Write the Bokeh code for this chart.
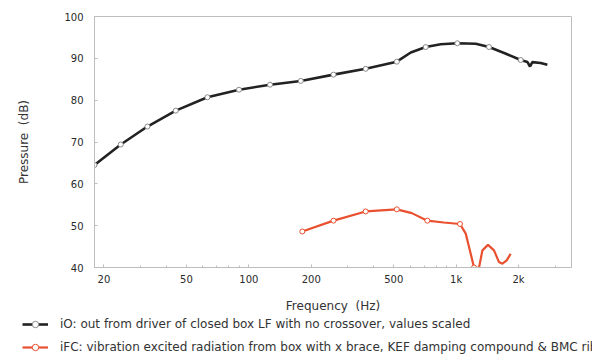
from bokeh.plotting import figure
from bokeh.layouts import column
from bokeh.models import FixedTicker, Legend, LegendItem, Range1d
from bokeh.embed import file_html
from bokeh.resources import INLINE

# ---- data ----
io_freq = [18.0, 24.1, 32.4, 44.4, 63.1, 89.6, 126.5, 178, 256, 366, 517, 604, 713, 842,
           1013, 1243, 1440, 1715, 2048, 2207, 2271, 2332, 2557, 2754]
io_db = [64.5, 69.4, 73.7, 77.5, 80.7, 82.5, 83.7, 84.6, 86.1, 87.5, 89.2, 91.4, 92.7, 93.35,
         93.6, 93.5, 92.7, 91.2, 89.6, 89.1, 88.05, 89.1, 88.9, 88.45]
io_mk_freq = [18.0, 24.1, 32.4, 44.4, 63.1, 89.6, 126.5, 178, 256, 366, 517, 713, 1013, 1440, 2048]
io_mk_db = [64.5, 69.4, 73.7, 77.5, 80.7, 82.5, 83.7, 84.6, 86.1, 87.5, 89.2, 92.7, 93.6, 92.7, 89.6]

fc_freq = [181, 256, 366, 517, 611, 726, 871, 1043, 1112, 1175, 1219, 1288, 1338, 1424,
           1522, 1609, 1671, 1753, 1832]
fc_db = [48.6, 51.2, 53.4, 53.9, 53.0, 51.2, 50.75, 50.4, 48.1, 43.3, 40.0, 39.9, 44.1, 45.4,
         44.1, 41.3, 40.9, 41.7, 43.3]
fc_mk_freq = [181, 256, 366, 517, 726, 1043, 1219]
fc_mk_db = [48.6, 51.2, 53.4, 53.9, 51.2, 50.4, 40.0]

x_ticks = [20, 50, 100, 200, 500, 1000, 2000]
x_tick_labels = {20: "20", 50: "50", 100: "100", 200: "200", 500: "500", 1000: "1k", 2000: "2k"}
x_minor = [20, 30, 40, 50, 60, 70, 80, 90, 100, 200, 300, 400, 500, 600, 700, 800, 900,
           1000, 2000, 3000]
y_ticks = [40, 50, 60, 70, 80, 90, 100]

label_io = "iO: out from driver of closed box LF with no crossover, values scaled"
label_fc = "iFC: vibration excited radiation from box with x brace, KEF damping compound & BMC ribs"

FONT = "DejaVu Sans"
AXIS_GRAY = "#bdbdbd"
BLACK = "#222222"
RED = "#e9502f"
IO_STYLE = dict(line_color=BLACK, line_width=2.6)
FC_STYLE = dict(line_color=RED, line_width=2.2)
IO_MK = dict(marker="circle", size=5, fill_color="white", line_color="#8a8a8a", line_width=1)
FC_MK = dict(marker="circle", size=5, fill_color="white", line_color=RED, line_width=1)

p = figure(width=592, height=316, x_axis_type="log", x_range=(18, 3600), y_range=(40, 100),
           output_backend="svg", toolbar_location=None,
           min_border_left=94, min_border_right=21, min_border_top=16, min_border_bottom=49)
p.frame_align = False
p.grid.visible = False
p.outline_line_color = AXIS_GRAY
p.background_fill_color = "white"
p.border_fill_color = "white"

p.line(io_freq, io_db, **IO_STYLE)
p.scatter(io_mk_freq, io_mk_db, **IO_MK)
p.line(fc_freq, fc_db, **FC_STYLE)
p.scatter(fc_mk_freq, fc_mk_db, **FC_MK)

xa = p.xaxis[0]
xa.ticker = FixedTicker(ticks=x_ticks, minor_ticks=x_minor)
xa.major_label_overrides = x_tick_labels
ya = p.yaxis[0]
ya.ticker = FixedTicker(ticks=y_ticks)

for ax in (xa, ya):
    ax.axis_line_color = AXIS_GRAY
    ax.major_tick_line_color = AXIS_GRAY
    ax.minor_tick_line_color = AXIS_GRAY
    ax.major_tick_in = 3
    ax.major_tick_out = 0
    ax.minor_tick_in = 2
    ax.minor_tick_out = 0
    ax.major_label_text_font = FONT
    ax.major_label_text_font_size = "10px"
    ax.major_label_text_color = "#2a2a2a"
    ax.axis_label_text_font = FONT
    ax.axis_label_text_font_size = "12px"
    ax.axis_label_text_font_style = "normal"
    ax.axis_label_text_color = "#333333"

xa.axis_label = "Frequency\u00a0\u00a0(Hz)"
xa.major_label_standoff = 6
xa.axis_label_standoff = 11
ya.axis_label = "Pressure\u00a0\u00a0(dB)"
ya.major_label_standoff = 11
ya.axis_label_standoff = 30

# ---- legend strip below the chart (series drawn out of view, only used as legend keys) ----
lf = figure(width=592, height=39, x_range=Range1d(0, 1), y_range=Range1d(0, 1),
            output_backend="svg", toolbar_location=None,
            x_axis_location=None, y_axis_location=None,
            min_border_left=0, min_border_right=0, min_border_top=0, min_border_bottom=0)
lf.frame_align = False
lf.grid.visible = False
lf.outline_line_color = None
lf.background_fill_color = "white"
lf.border_fill_color = "white"
k1 = lf.line(io_freq, io_db, **IO_STYLE)
k2 = lf.scatter(io_mk_freq, io_mk_db, **IO_MK)
k3 = lf.line(fc_freq, fc_db, **FC_STYLE)
k4 = lf.scatter(fc_mk_freq, fc_mk_db, **FC_MK)

legend = Legend(items=[LegendItem(label=label_io, renderers=[k1, k2], index=0),
                       LegendItem(label=label_fc, renderers=[k3, k4], index=0)],
                location=(22, 0), orientation="vertical",
                glyph_width=26, glyph_height=16, label_height=16, spacing=7,
                label_standoff=12, padding=0, margin=0,
                label_text_font=FONT, label_text_font_size="12px", label_text_color="#333333",
                border_line_color=None, background_fill_alpha=0)
lf.add_layout(legend, "center")

layout = column(p, lf, spacing=0)
open("out.html", "w").write(file_html(layout, INLINE))
